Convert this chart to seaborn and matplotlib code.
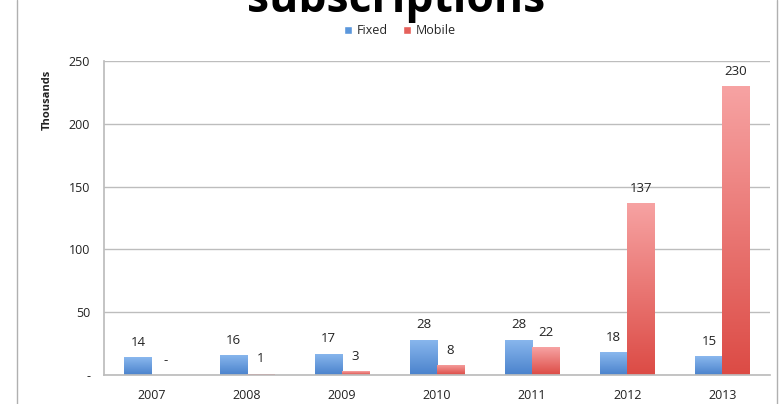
import numpy as np
import pandas as pd
import matplotlib
matplotlib.use("Agg")
import matplotlib.pyplot as plt
import seaborn as sns
from matplotlib.colors import LinearSegmentedColormap
from matplotlib.patches import Patch

years = ["2007", "2008", "2009", "2010", "2011", "2012", "2013"]
fixed = [14, 16, 17, 28, 28, 18, 15]
mobile = [0, 1, 3, 8, 22, 137, 230]
fixed_labels = ["14", "16", "17", "28", "28", "18", "15"]
mobile_labels = ["-", "1", "3", "8", "22", "137", "230"]
series = ["Fixed", "Mobile"]

df = pd.DataFrame({
    "Year": years * 2,
    "Value": fixed + mobile,
    "Series": ["Fixed"] * len(years) + ["Mobile"] * len(years),
})

sns.set_theme(style="white")
plt.rcParams['font.family'] = ['Open Sans', 'DejaVu Sans']

fig = plt.figure(figsize=(7.84, 4.04), dpi=100)
ax = fig.add_axes([104/784, 1 - 375/404, (770-104)/784, (375-61)/404])

palette = {"Fixed": "#5b97dc", "Mobile": "#e5615b"}
sns.barplot(data=df, x="Year", y="Value", hue="Series", palette=palette,
            width=0.57, ax=ax, saturation=1, legend=False)

cmaps = {
    "Fixed": LinearSegmentedColormap.from_list("f", ["#4a82cc", "#8ab8ee"]),
    "Mobile": LinearSegmentedColormap.from_list("m", ["#dc4b45", "#f7a3a3"]),
}
grad = np.linspace(0, 1, 256).reshape(-1, 1)
for cont, s in zip(ax.containers, series):
    for p in cont.patches:
        x0, y0 = p.get_x(), p.get_y()
        w, h = p.get_width(), p.get_height()
        if h <= 0:
            continue
        im = ax.imshow(grad, cmap=cmaps[s], origin="lower", aspect="auto",
                       extent=[x0, x0 + w, y0, y0 + h], zorder=p.get_zorder())
        im.set_clip_path(p)
        p.set_alpha(0)

for cont, labs in zip(ax.containers, [fixed_labels, mobile_labels]):
    ax.bar_label(cont, labels=labs, padding=6, fontsize=9.5, color="#222222")

ax.set_xlim(-0.5, 6.5)
ax.set_ylim(0, 250)
ax.set_yticks([0, 50, 100, 150, 200, 250])
ax.set_yticklabels(["-", "50", "100", "150", "200", "250"])
ax.yaxis.grid(True, color="#bdbdbd", linewidth=1)
ax.set_axisbelow(True)
for s in ["top", "right"]:
    ax.spines[s].set_visible(False)
ax.spines["left"].set_color("#bdbdbd")
ax.spines["bottom"].set_color("#bdbdbd")
ax.tick_params(axis="both", labelsize=9, colors="#222222", length=0, pad=10)
ax.set_xlabel("")
ax.set_ylabel("")

fig.text(47/784, 1 - 100/404, "Thousands", rotation=90, fontsize=8,
         fontweight="bold", ha="center", va="center", color="#222222")

handles = [Patch(facecolor=palette[s], label=s) for s in series]
fig.legend(handles=handles, loc="center", bbox_to_anchor=(400/784, 1 - 31/404),
           ncol=2, frameon=False, fontsize=9, handlelength=0.6, handleheight=0.6,
           handletextpad=0.4, columnspacing=1.2)

fig.add_artist(plt.Line2D([17/784, 17/784], [0, 1], color="#b0b0b0", lw=1))
fig.add_artist(plt.Line2D([777/784, 777/784], [0, 1], color="#b0b0b0", lw=1))

# title, clipped by the top edge of the picture
fig.text(396/784, 1 - 12/404, "subscriptions", fontsize=32, fontweight="bold",
         ha="center", va="baseline", color="black")

fig.savefig("out.png", dpi=100)
